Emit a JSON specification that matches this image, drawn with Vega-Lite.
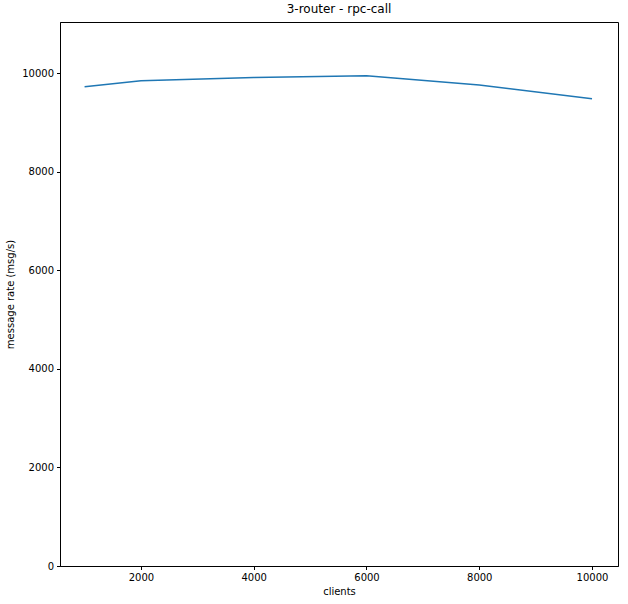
{
  "$schema": "https://vega.github.io/schema/vega-lite/v6.json",
  "width": 558,
  "height": 544,
  "autosize": {"type": "none"},
  "padding": {"left": 60, "top": 22, "right": 10, "bottom": 38},
  "background": "white",
  "title": {"text": "3-router - rpc-call", "font": "DejaVu Sans", "fontSize": 12, "fontWeight": "normal", "color": "black", "offset": 6},
  "config": {
    "view": {"stroke": "black", "strokeWidth": 1},
    "axis": {
      "labelFont": "DejaVu Sans", "labelFontSize": 10, "labelColor": "black",
      "titleFont": "DejaVu Sans", "titleFontSize": 10, "titleFontWeight": "normal", "titleColor": "black",
      "grid": false, "domainColor": "black", "tickColor": "black", "tickSize": 3.5, "labelPadding": 3
    }
  },
  "data": {"values": [
    {"clients": 1000, "rate": 9728},
    {"clients": 2000, "rate": 9850},
    {"clients": 4000, "rate": 9915},
    {"clients": 6000, "rate": 9951},
    {"clients": 8000, "rate": 9762},
    {"clients": 10000, "rate": 9484}
  ]},
  "mark": {"type": "line", "color": "#1f77b4", "strokeWidth": 1.5},
  "encoding": {
    "x": {"field": "clients", "type": "quantitative", "title": "clients",
      "scale": {"domain": [564, 10461], "nice": false, "zero": false},
      "axis": {"values": [2000, 4000, 6000, 8000, 10000], "format": "d", "titlePadding": 4}},
    "y": {"field": "rate", "type": "quantitative", "title": "message rate (msg/s)",
      "scale": {"domain": [0, 11040], "nice": false},
      "axis": {"values": [0, 2000, 4000, 6000, 8000, 10000], "format": "d", "titlePadding": 6}}
  }
}
